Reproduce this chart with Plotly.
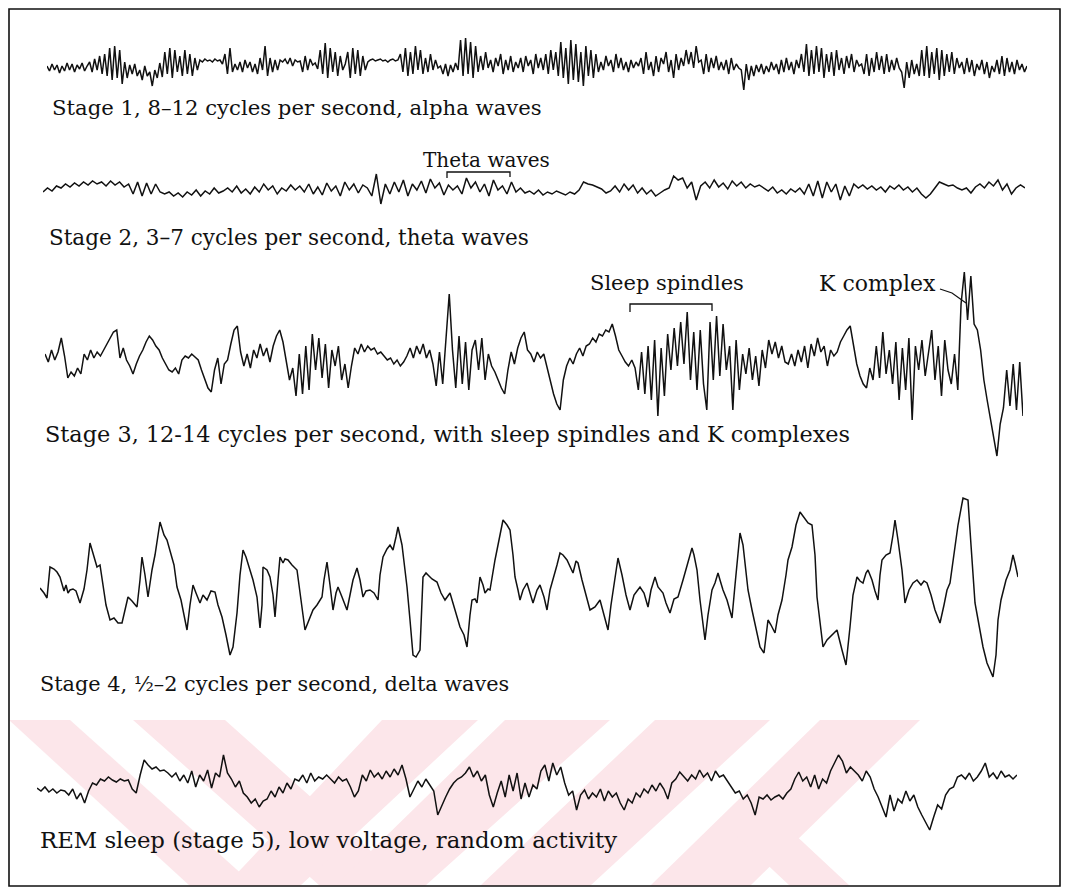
import plotly.graph_objects as go

# page is 1069 x 895; the html body keeps an 8px margin
PAGE_W, PAGE_H, OFF = 1069, 895, 8
W, H = PAGE_W - 2 * OFF, PAGE_H - 2 * OFF

# ---------------- data (amplitudes, positive = up) ----------------
stage1 = [2,-3,4,-2,3,-5,2,-3,5,-2,4,-4,3,-1,5,-3,2,
          6,-4,9,-2,12,-6,14,-8,20,-12,22,-10,18,-16,
          6,-10,3,-6,4,-8,-2,-12,2,-8,-4,-18,-2,-10,
          5,-9,16,-6,20,-10,18,-4,12,-8,18,-6,14,-8,10,-2,
          8,6,9,7,8,6,9,7,8,4,14,-6,20,-4,
          4,-2,6,-4,8,0,6,-4,4,-6,10,-2,22,-8,10,-4,8,-2,
          8,6,9,4,10,2,8,6,7,-4,12,-2,9,3,5,-1,
          18,-6,25,-10,20,-4,16,-8,12,-2,
          4,16,-10,20,-6,18,-8,12,-2,6,
          8,9,7,8,9,7,8,6,8,9,7,8,
          14,-4,20,-8,16,-6,22,-2,18,-6,10,-4,14,-2,8,0,
          2,-6,4,-8,3,-4,5,-2,
          28,-8,30,-6,26,-10,22,-4,
          12,-2,16,0,8,-4,10,2,14,-6,8,-2,12,-4,6,0,10,-4,12,2,8,-6,14,0,10,-2,
          14,-6,18,-2,16,-8,
          26,-10,20,-16,28,-12,24,-14,16,-18,22,-8,18,-10,14,-4,
          6,-2,12,2,8,-4,14,0,10,-2,6,-4,8,0,6,2,
          10,-6,16,-2,6,-8,12,-4,10,4,16,-4,8,-10,14,-2,10,2,18,4,16,0,22,6,
          8,-6,14,-4,10,0,12,-2,6,-2,8,-6,10,-2,4,0,
          -2,-22,4,-12,2,-8,3,-4,
          4,-6,2,-4,6,-2,4,-6,8,-4,10,-2,6,-6,8,0,
          14,-4,24,-8,18,-6,22,-4,20,-10,14,-4,16,-8,18,-2,10,-6,12,0,14,-4,8,2,
          4,-6,14,-8,10,-4,16,-2,12,-6,14,-4,8,-2,10,0,
          -4,-20,6,-10,8,-6,4,-8,
          18,-8,22,-10,16,-6,20,-12,18,-8,14,-4,16,-6,10,0,
          6,-6,10,-4,8,-8,4,-2,8,-6,6,-10,2,-4,8,-6,12,-8,10,-4,6,-6,8,-2,4,-4,2]

stage2 = [-2,2,-1,4,2,6,3,7,4,8,5,9,6,8,4,9,5,8,3,
          6,-4,8,-6,7,-4,6,-2,
          -4,-2,-6,-3,-7,-2,-5,0,-6,-1,-4,2,-3,-1,
          2,-2,4,-3,1,-4,3,-2,6,0,4,-4,2,-1,5,0,
          4,-2,6,-4,3,-5,7,-1,4,-6,8,0,6,-3,5,2,
          -6,16,-14,6,
          -4,8,-2,10,-6,6,0,9,-3,11,2,7,-5,5,
          0,4,-4,12,2,8,-2,6,-6,10,0,4,-4,8,-2,2,
          -3,-1,-4,0,-5,-2,-4,-1,-3,-5,-2,-4,0,
          8,6,5,3,1,-3,-1,
          4,-2,6,0,5,-3,2,-4,0,-6,-3,
          0,2,14,10,12,2,8,-10,4,
          8,2,10,3,7,1,9,4,8,2,6,3,5,
          2,-1,3,-3,0,-4,1,-2,2,
          -4,6,-6,9,-8,8,-2,6,-10,4,-6,
          6,2,5,1,4,0,3,-2,4,1,5,0,3,-2,2,-4,
          -8,-4,2,
          8,6,4,5,2,0,
          2,-3,3,6,2,8,4,10,0,6,-4,2,5,2]

stage3 = [6,-2,10,0,8,
          22,4,-18,
          -12,-16,-8,-14,
          6,0,10,2,8,4,
          10,16,22,28,30,
          2,12,0,
          -6,-14,-4,
          4,10,18,24,20,14,
          10,2,-4,-10,
          -12,-8,-14,
          0,4,2,6,3,0,
          -10,-20,-28,-32,
          -10,2,-24,-4,0,
          16,30,34,
          8,-6,6,-8,
          10,2,16,4,12,-2,14,
          24,30,18,
          0,-20,-8,-36,
          6,-34,14,-30,26,
          -10,22,-18,16,-28,10,
          -6,14,-20,
          -4,-28,-6,
          12,6,16,8,14,10,12,6,8,4,
          0,2,-4,0,-6,-2,
          4,12,2,14,6,16,2,10,-4,
          -26,8,-24,
          20,66,10,-28,
          24,-24,18,-30,10,
          20,-10,22,-20,6,
          -6,-12,-20,-28,-34,
          -10,8,-4,12,22,28,10,6,-2,
          8,2,6,
          -8,-20,-34,-44,-50,
          -20,-6,2,-4,6,
          12,4,14,
          16,22,18,26,24,30,28,36,
          24,10,4,-2,
          -6,0,-8,
          -30,8,-34,14,-40,20,-56,12,-36,26,
          -10,32,-6,38,-4,
          48,-20,
          28,-30,30,-24,
          -50,
          38,-20,44,-16,36,
          -10,14,-50,20,-30,
          6,-14,12,-20,4,-26,10,-8,
          20,6,18,2,14,-2,
          -4,6,-6,10,-2,14,-8,16,4,22,8,14,-6,10,4,
          8,18,24,30,34,
          14,-4,-16,-24,-28,
          -8,-20,14,-18,28,-14,
          10,-24,18,-40,12,-30,22,-60,
          14,-10,20,-16,8,
          30,-20,14,-36,20,-10,
          -24,6,-30,
          56,88,40,84,36,
          30,10,-20,-40,-60,-80,-96,
          -64,-48,
          -10,-46,-4,-50,-2,-56]

stage4_t = [40,44,47,50,54,57,60,62,64,66,68,70,73,76,80,84,87,90,93,97,100,103,106,110,114,118,122,125,128,132,
            137,140,142,145,148,152,155,160,164,167,170,174,177,181,184,187,190,193,196,200,203,207,211,215,218,222,226,230,233,237,
            240,243,246,250,253,257,260,262,263,267,270,273,275,278,280,283,285,288,292,297,300,303,305,309,313,317,322,324,327,330,
            333,336,338,342,347,350,353,357,360,363,366,370,374,378,380,383,387,390,393,396,398,402,407,410,413,416,420,423,426,428,
            432,437,441,445,450,455,460,464,467,470,472,475,477,480,483,485,488,490,493,495,499,503,507,510,513,515,518,520,523,527,
            530,533,537,540,544,547,550,553,557,560,563,567,570,573,576,578,582,586,590,595,600,604,608,611,614,618,622,626,630,634,
            637,640,644,648,651,655,658,663,666,670,674,678,683,687,692,694,697,700,703,705,708,712,715,718,720,723,727,732,735,738,
            740,743,748,752,756,760,764,768,771,775,778,782,786,788,792,796,800,804,808,812,815,817,820,823,827,830,834,837,842,846,
            850,853,857,860,863,866,868,872,875,878,880,882,886,890,893,895,898,902,905,909,913,917,921,924,927,931,935,940,944,947,
            950,954,958,963,966,968,971,975,979,983,987,990,993,996,998,1001,1003,1006,1010,1013,1015,1018]
stage4_v = [-3,-8,-13,18,16,13,8,2,-6,0,-8,-5,-4,-6,-18,-4,15,42,32,18,20,-2,-20,-35,-33,-38,-38,-25,-12,-16,
            -22,5,28,10,-12,15,30,63,50,45,35,20,-2,-15,-30,-45,-20,0,-8,-18,-10,-15,-6,-7,-20,-32,-50,-70,-62,-28,
            10,35,28,15,5,-12,-43,-20,18,15,8,-10,-32,5,28,22,26,25,20,15,-10,-30,-45,-35,-25,-20,-12,5,23,0,
            -25,-8,-2,-12,-25,-10,5,17,5,-12,-6,-5,-8,-15,10,28,36,40,35,48,58,40,-2,-35,-70,-72,-65,8,12,10,
            6,3,-8,-15,-8,-25,-42,-50,-62,-30,-15,-14,-18,8,0,-8,-4,-5,15,25,45,65,60,55,30,8,-5,-15,-5,2,
            -8,-18,-5,0,-12,-25,-5,5,20,32,30,25,18,12,24,22,5,-10,-25,-22,-15,-30,-45,-20,0,27,10,-10,-25,-10,
            -6,-2,-8,-22,-5,8,-2,-8,-18,-28,-14,-12,5,20,37,30,15,-15,-40,-55,-30,-5,2,12,5,-5,-15,-33,0,35,
            52,40,-5,-25,-45,-62,-68,-35,-40,-48,-30,-15,10,25,38,60,73,68,62,60,30,-12,-40,-62,-55,-52,-48,-45,-65,-80,
            -42,-10,8,4,2,12,15,5,-6,-15,10,25,30,32,50,65,45,15,-18,-5,2,5,0,4,2,-10,-25,-38,-20,-5,
            2,30,60,87,86,85,40,-18,-40,-62,-78,-85,-92,-70,-35,-15,-8,5,15,30,22,8]

rem = [-3,-6,-2,-7,-4,-8,-5,
       -6,-10,-4,-14,-8,-18,
       -6,2,0,6,4,8,
       5,3,6,4,5,
       -4,-8,
       10,25,
       20,16,18,14,15,12,
       8,12,4,10,
       2,14,-2,10,4,15,-3,12,
       8,30,
       12,6,-2,4,-8,
       -12,-18,-14,-22,-16,
       -14,-6,-12,-2,-8,2,-4,6,
       4,10,2,12,4,8,6,10,
       6,2,8,4,6,-2,-12,-6,
       10,4,15,8,
       12,6,14,8,16,10,20,6,
       -12,-4,
       4,-2,6,0,-6,
       -30,
       -20,-12,-4,2,6,
       8,12,18,8,14,4,10,
       -10,-22,-8,
       4,-12,10,-6,12,-14,2,
       -12,0,-4,
       14,20,4,22,10,18,
       2,-10,-6,-25,
       -10,-5,-14,-8,-12,-4,-16,-6,-12,-8,-18,-25,
       -14,-18,-8,-12,-4,-8,0,-6,2,-4,-14,2,
       6,13,8,4,10,6,15,8,12,4,14,8,10,
       4,-2,-8,-6,-14,-10,-18,-30,
       -12,-14,-10,-15,-12,-10,-14,-8,-4,
       6,13,4,
       8,-2,10,-4,6,2,
       14,22,30,24,
       12,18,14,10,
       4,14,8,
       -4,-12,-22,-32,
       -10,-26,-14,
       -18,-6,-16,-10,-22,-30,-38,-45,
       -32,-20,-24,-10,-4,-2,
       8,10,6,12,4,8,
       14,22,8,
       12,6,14,8,10,6,10]

captions = ["Stage 1, 8–12 cycles per second, alpha waves",
            "Stage 2, 3–7 cycles per second, theta waves",
            "Stage 3, 12-14 cycles per second, with sleep spindles and K complexes",
            "Stage 4, ½–2 cycles per second, delta waves",
            "REM sleep (stage 5), low voltage, random activity"]
labels = ["Theta waves", "Sleep spindles", "K complex"]

# ---------------- layout geometry (page pixels) ----------------
panels = [
    dict(x0=47, x1=1027, cy=68, hh=40),
    dict(x0=43, x1=1025, cy=190, hh=30),
    dict(x0=45, x1=1023, cy=360, hh=100),
    dict(x0=40, x1=1018, cy=585, hh=100),
    dict(x0=37, x1=1017, cy=785, hh=50),
]
caption_pos = [(50, 107, 21.2), (47, 237, 21.5), (43, 434, 22.4), (38, 684, 20.8), (38, 840, 22.8)]
label_pos = [(486, 160, 20), (667, 283, 21), (877, 283, 22)]

FONT = "DejaVu Serif"
INK = "#111111"

def px(x):
    return (x - OFF) / W

def py(y):
    return 1 - (y - OFF) / H

fig = go.Figure()
series = [
    (list(range(len(stage1))), stage1),
    (list(range(len(stage2))), stage2),
    (list(range(len(stage3))), stage3),
    (stage4_t, stage4_v),
    (list(range(len(rem))), rem),
]
for i, ((xs, ys), p) in enumerate(zip(series, panels), start=1):
    fig.add_trace(go.Scatter(x=xs, y=ys, mode="lines",
                             line=dict(color=INK, width=1.5),
                             xaxis=f"x{i}", yaxis=f"y{i}",
                             showlegend=False, hoverinfo="skip"))
    fig.layout[f"xaxis{i}"] = dict(domain=[px(p["x0"]), px(p["x1"])],
                                   range=[xs[0], xs[-1]], visible=False,
                                   anchor=f"y{i}", fixedrange=True)
    fig.layout[f"yaxis{i}"] = dict(domain=[py(p["cy"] + p["hh"]), py(p["cy"] - p["hh"])],
                                   range=[-p["hh"], p["hh"]], visible=False,
                                   anchor=f"x{i}", fixedrange=True)

annotations = []
for text, (x, y, s) in zip(captions, caption_pos):
    annotations.append(dict(text=text, x=px(x), y=py(y), xref="paper", yref="paper",
                            xanchor="left", yanchor="middle", showarrow=False,
                            font=dict(family=FONT, size=s, color=INK)))
for text, (x, y, s) in zip(labels, label_pos):
    annotations.append(dict(text=text, x=px(x), y=py(y), xref="paper", yref="paper",
                            xanchor="center", yanchor="middle", showarrow=False,
                            font=dict(family=FONT, size=s, color=INK)))

def path(points, close=False):
    s = "M " + " L ".join(f"{px(x):.5f},{py(y):.5f}" for x, y in points)
    return s + (" Z" if close else "")

shapes = []
pink = "#fce6ea"
stripes = [
    [(9, 720), (70, 720), (255, 886), (190, 886)],
    [(133, 720), (225, 720), (410, 886), (320, 886)],
    [(382, 720), (478, 720), (300, 886), (225, 886)],
    [(505, 720), (610, 720), (425, 886), (335, 886)],
    [(655, 720), (770, 720), (590, 886), (480, 886)],
    [(820, 720), (920, 720), (750, 886), (650, 886)],
    [(730, 830), (790, 830), (850, 886), (790, 886)],
]
for s in stripes:
    shapes.append(dict(type="path", path=path(s, True), xref="paper", yref="paper",
                       fillcolor=pink, line=dict(width=0), layer="below"))
shapes.append(dict(type="rect", x0=px(9), x1=px(1060), y0=py(886), y1=py(9),
                   xref="paper", yref="paper", line=dict(color=INK, width=1.6)))
shapes.append(dict(type="path", path=path([(447, 178), (447, 172), (510, 172), (510, 177)]),
                   xref="paper", yref="paper", line=dict(color=INK, width=1.3)))
shapes.append(dict(type="path", path=path([(630, 312), (630, 304), (712, 304), (712, 311)]),
                   xref="paper", yref="paper", line=dict(color=INK, width=1.3)))
shapes.append(dict(type="path", path=path([(940, 289), (952, 293), (966, 303)]),
                   xref="paper", yref="paper", line=dict(color=INK, width=1.2)))

fig.update_layout(width=W, height=H, margin=dict(l=0, r=0, t=0, b=0),
                  paper_bgcolor="white", plot_bgcolor="rgba(0,0,0,0)",
                  annotations=annotations, shapes=shapes, showlegend=False)

fig.write_html("out.html")
